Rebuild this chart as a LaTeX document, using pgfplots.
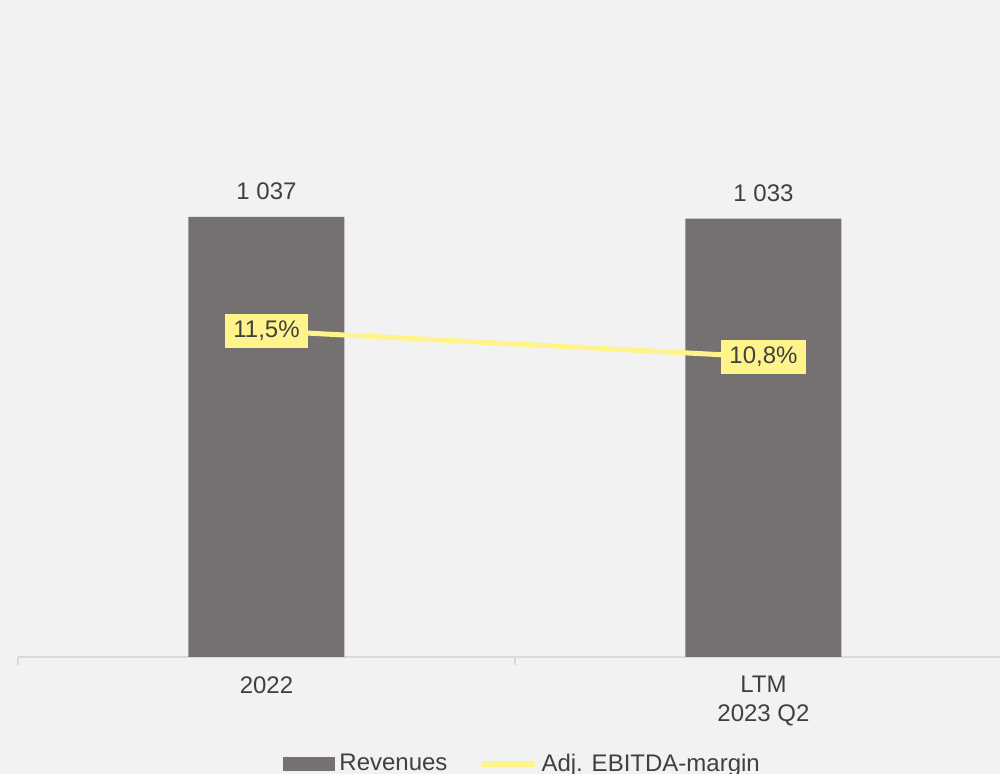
\documentclass[border=0pt]{standalone}
\usepackage{fontspec}
\setmainfont{Liberation Sans}
\usepackage{pgfplots}
\pgfplotsset{compat=1.18}
\usepackage{pgfplotstable}

\definecolor{bgc}{HTML}{F2F2F2}
\definecolor{barc}{HTML}{767171}
\definecolor{linec}{HTML}{FFF38C}
\definecolor{boxc}{HTML}{FFF38C}
\definecolor{txtc}{HTML}{404040}
\definecolor{axc}{HTML}{D9D9D9}

\pgfplotstableread{
x  y     lab
0  1037  1037
1  1033  1033
}\revenues

\pgfplotstableread{
x  y     lab
0  11.5  11,5
1  10.8  10,8
}\margin

\begin{document}
\begin{tikzpicture}[font=\fontsize{12}{14.4}\selectfont]
\useasboundingbox (-9pt,-58.5pt) rectangle (491pt,328.5pt);
\fill[bgc] (-9pt,-58.5pt) rectangle (491pt,328.5pt);
\begin{scope}
\clip (-9pt,-58.5pt) rectangle (491pt,328.5pt);

% revenues, left scale
\begin{axis}[
    at={(0pt,0pt)}, anchor=south west,
    scale only axis,
    width=491pt, height=318.25pt,
    xmin=-0.5, xmax=1.476,
    ymin=0, ymax=1500,
    axis x line*=bottom,
    axis y line=none,
    x axis line style={axc, line width=0.8pt},
    xtick={0,1},
    xticklabels={2022, {LTM\\2023 Q2}},
    minor xtick={-0.5,0.5,1.5},
    major tick length=0pt,
    minor tick length=4pt,
    tick align=outside,
    minor x tick style={axc, line width=0.8pt},
    xticklabel style={align=center, text=txtc, inner sep=0pt, yshift=-9.5pt},
    legend style={at={(0.2699,-0.168)}, anchor=west,
        draw=none, fill=none, inner sep=0pt, text=txtc,
        /tikz/every even column/.append style={column sep=13pt}},
    legend cell align=left,
    legend columns=2,
]
\addplot[ybar, bar width=78pt, fill=barc, draw=none,
    point meta=explicit symbolic,
    nodes near coords={\pgfmathprintnumber[1000 sep={\ }, assume math mode=true]{\pgfplotspointmeta}},
    nodes near coords style={anchor=south, inner sep=0pt, yshift=8.5pt, text=txtc},
    legend image code/.code={\fill[barc] (0pt,-3.5pt) rectangle (26pt,3.5pt);}
    ] table[x=x, y=y, meta=lab] {\revenues};
\addlegendentry{Revenues}
\addlegendimage{linec, line width=3pt,
    legend image code/.code={\draw[linec, line width=3pt] (0pt,0pt) -- (27pt,0pt);}}
\addlegendentry{Adj. EBITDA-margin}
\end{axis}

% margin, right scale
\begin{axis}[
    at={(0pt,0pt)}, anchor=south west,
    scale only axis,
    width=491pt, height=318.25pt,
    xmin=-0.5, xmax=1.476,
    ymin=2.72, ymax=19.86,
    hide axis,
]
\addplot[linec, line width=2.5pt,
    point meta=explicit symbolic,
    nodes near coords={\pgfplotspointmeta\%},
    nodes near coords align=center,
    nodes near coords style={anchor=center, fill=boxc, text=txtc,
        inner xsep=4.3pt, inner ysep=3.5pt, text height=8.6pt, text depth=1.6pt}
    ] table[x=x, y=y, meta=lab] {\margin};
\end{axis}
\end{scope}
\end{tikzpicture}
\end{document}
